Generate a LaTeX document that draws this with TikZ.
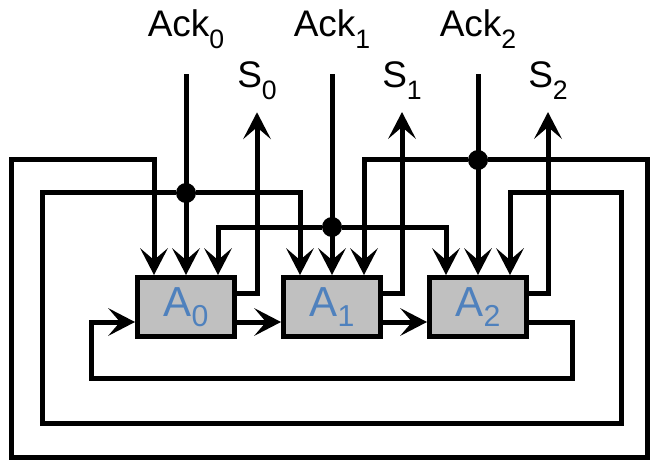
\documentclass[tikz,border=0pt]{standalone}
\usepackage{fontspec}
\setmainfont{Liberation Sans}
\usepackage{graphicx}
\usetikzlibrary{positioning,arrows.meta}

\definecolor{ablue}{RGB}{79,129,189}
\definecolor{agray}{RGB}{192,192,192}
\newcommand{\lowidx}[2][0.32]{\raisebox{-#1em}{\scalebox{0.72}{#2}}}

\begin{document}
\begin{tikzpicture}[x=1pt, y=-1pt,
  node distance=44pt,
  >={Stealth[length=27pt, width=28pt, inset=12pt, line width=0pt]},
  block/.style={draw, line width=5pt, fill=agray, minimum width=97pt, minimum height=59pt, inner sep=0pt, text=ablue, font=\fontsize{42}{44}\selectfont},
  lbl/.style={inner sep=0pt, anchor=base, font=\fontsize{37}{40}\selectfont},
  junct/.style={circle, fill, inner sep=0pt, minimum size=20pt},
  wire/.style={line width=5pt},
  arrow/.style={wire, ->}
]
  \useasboundingbox (0,0) rectangle (652,462);
  \node[block] (A0) at (186,307) {A\lowidx[0.24]{0}};
  \node[block, right=of A0] (A1) {A\lowidx[0.24]{1}};
  \node[block, right=of A1] (A2) {A\lowidx[0.24]{2}};
  \node[lbl] (ack0) at (186,37) {Ack\lowidx{0}};
  \node[lbl] (ack1) at (332,37) {Ack\lowidx{1}};
  \node[lbl] (ack2) at (478,37) {Ack\lowidx{2}};
  \node[lbl] (s0) at (257,88) {S\lowidx{0}};
  \node[lbl] (s1) at (402,88) {S\lowidx{1}};
  \node[lbl] (s2) at (548,88) {S\lowidx{2}};
  \node[junct] (d0) at (A0.north |- 0,193) {};
  \node[junct] (d1) at (A1.north |- 0,227) {};
  \node[junct] (d2) at (A2.north |- 0,160) {};
  % acknowledge lines
  \draw[arrow] ([yshift=-25pt]ack0.south) -- (A0.north);
  \draw[arrow] ([yshift=-25pt]ack1.south) -- (A1.north);
  \draw[arrow] ([yshift=-25pt]ack2.south) -- (A2.north);
  \draw[arrow] (d0) -| ([xshift=-32pt]A1.north);
  \draw[arrow] (d0) -| (42,423) -| (621,193) -| ([xshift=32pt]A2.north);
  \draw[arrow] (d1) -| ([xshift=32pt]A0.north);
  \draw[arrow] (d1) -| ([xshift=-32pt]A2.north);
  \draw[arrow] (d2) -| ([xshift=32pt]A1.north);
  \draw[arrow] (d2) -| (647,457) -| (11,160) -| ([xshift=-32pt]A0.north);
  % outputs
  \draw[arrow] ([yshift=14pt]A0.east) -| ([yshift=-12pt]s0.south);
  \draw[arrow] ([yshift=14pt]A1.east) -| ([yshift=-12pt]s1.south);
  \draw[arrow] ([yshift=14pt]A2.east) -| ([yshift=-12pt]s2.south);
  % ring
  \draw[arrow] ([yshift=-15pt]A0.east) -- ([yshift=-15pt]A1.west);
  \draw[arrow] ([yshift=-15pt]A1.east) -- ([yshift=-15pt]A2.west);
  \draw[arrow] ([yshift=-15pt]A2.east) -| (572,378) -| (91,322) -- ([yshift=-15pt]A0.west);
\end{tikzpicture}
\end{document}
